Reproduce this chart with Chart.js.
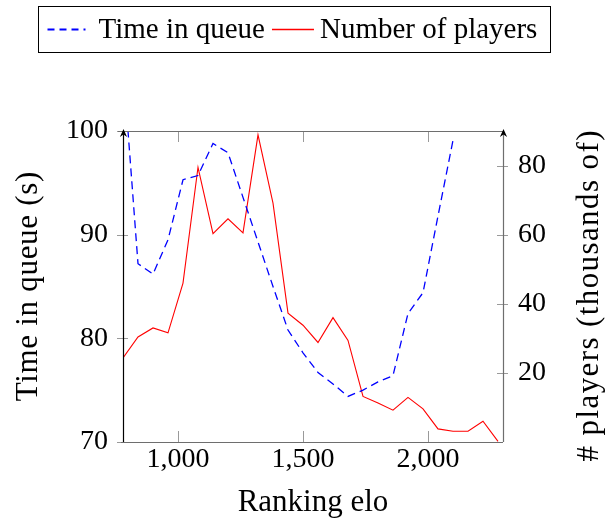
<!DOCTYPE html>
<html>
<head>
<meta charset="utf-8">
<script src="https://cdn.jsdelivr.net/npm/chart.js@4.4.1/dist/chart.umd.min.js"></script>
<style>
  html, body { margin: 0; padding: 0; background: #fff; }
  #wrap { width: 605px; height: 523px; }
</style>
</head>
<body>
<div id="wrap"><canvas id="chart" width="605" height="523"></canvas></div>
<script>
// Ranking elo bins (x)
const elo = [780, 840, 900, 960, 1020, 1080, 1140, 1200, 1260, 1320, 1380, 1440, 1500,
             1560, 1620, 1680, 1740, 1800, 1860, 1920, 1980, 2040, 2100, 2160, 2220, 2280];
// Time in queue (s), left axis
const queueTime = [106.4, 87.2, 86.2, 89.5, 95.3, 95.7, 98.8, 97.9, 93.6, 89.3, 85.0, 80.8, 78.6,
                   76.7, 75.6, 74.4, 75.0, 75.8, 76.4, 82.4, 84.4, 91.8, 99.1];
// Number of players (thousands), right axis
const players = [24.3, 30.4, 33.0, 31.6, 46.0, 79.5, 60.3, 64.6, 60.5, 88.9, 69.1, 37.3, 33.8,
                 28.8, 36.0, 29.4, 13.2, 11.3, 9.2, 12.9, 9.6, 3.8, 3.1, 3.1, 6.0, 0.2];

const xTicks = [1000, 1500, 2000];
const xTickLabels = ['1,000', '1,500', '2,000'];
const timeTicks = [70, 80, 90, 100];
const playerTicks = [20, 40, 60, 80];

const serif = 'Liberation Serif';
const axisGray = '#6e6e6e';
const tickGray = '#9a9a9a';

function arrowUp(ctx, x, y) {
  ctx.beginPath();
  ctx.moveTo(x, y - 2);
  ctx.lineTo(x - 3.6, y + 6);
  ctx.lineTo(x, y + 3.5);
  ctx.lineTo(x + 3.6, y + 6);
  ctx.closePath();
  ctx.fillStyle = '#000';
  ctx.fill();
}

// vertical title reading bottom to top, baseline at x
function sideTitle(ctx, text, x, y, spacing) {
  ctx.save();
  ctx.fillStyle = '#000';
  ctx.font = '31px "' + serif + '"';
  if ('letterSpacing' in ctx) ctx.letterSpacing = spacing + 'px';
  ctx.textAlign = 'center';
  ctx.textBaseline = 'alphabetic';
  ctx.translate(x, y);
  ctx.rotate(-Math.PI / 2);
  ctx.fillText(text, spacing / 2, 0);
  ctx.restore();
}

const decorations = {
  id: 'decorations',
  afterDraw(chart) {
    const ctx = chart.ctx;
    const { left, right, top, bottom } = chart.chartArea;
    const xs = chart.scales.x, ys = chart.scales.y, ys1 = chart.scales.y1;
    ctx.save();

    // ticks
    ctx.lineWidth = 1;
    ctx.strokeStyle = tickGray;
    ctx.beginPath();
    xTicks.forEach(v => {
      const px = Math.round(xs.getPixelForValue(v)) + 0.5;
      ctx.moveTo(px, bottom); ctx.lineTo(px, bottom - 11);
      ctx.moveTo(px, top); ctx.lineTo(px, top + 11);
    });
    timeTicks.forEach(v => {
      const py = Math.round(ys.getPixelForValue(v)) + 0.5;
      ctx.moveTo(left - 6, py); ctx.lineTo(left + 5, py);
    });
    playerTicks.forEach(v => {
      const py = Math.round(ys1.getPixelForValue(v)) + 0.5;
      ctx.moveTo(right - 6, py); ctx.lineTo(right + 5, py);
    });
    ctx.stroke();

    // frame lines
    ctx.strokeStyle = axisGray;
    ctx.lineWidth = 1.2;
    ctx.beginPath();
    ctx.moveTo(left - 5, top + 0.5); ctx.lineTo(right, top + 0.5);
    ctx.moveTo(left - 2, bottom + 0.5); ctx.lineTo(right, bottom + 0.5);
    ctx.moveTo(right + 0.5, bottom); ctx.lineTo(right + 0.5, top + 2);
    ctx.stroke();
    ctx.strokeStyle = '#000';
    ctx.beginPath();
    ctx.moveTo(left + 0.5, bottom); ctx.lineTo(left + 0.5, top + 2);
    ctx.stroke();
    arrowUp(ctx, left + 0.5, top);
    arrowUp(ctx, right + 0.5, top);

    // axis titles
    sideTitle(ctx, 'Time in queue (s)', 37, (top + bottom) / 2, 0.7);
    sideTitle(ctx, '# players (thousands of)', 598, 296, 1.4);

    // legend
    ctx.fillStyle = '#000';
    ctx.font = '29px "' + serif + '"';
    const ds = chart.data.datasets;
    const w1 = ctx.measureText(ds[0].label).width;
    const w2 = ctx.measureText(ds[1].label).width;
    const boxW = 9 + 38 + 13 + w1 + 7 + 42 + 6 + w2 + 13;
    const bx = Math.round(294 - boxW / 2) + 0.5;
    ctx.strokeStyle = '#000';
    ctx.lineWidth = 1;
    ctx.strokeRect(bx, 6.5, Math.round(boxW), 46);
    let cx = bx + 9;
    ctx.lineWidth = 2;
    ctx.strokeStyle = '#0000ff';
    ctx.setLineDash([7, 5]);
    ctx.beginPath(); ctx.moveTo(cx, 29.5); ctx.lineTo(cx + 38, 29.5); ctx.stroke();
    ctx.setLineDash([]);
    cx += 38 + 13;
    ctx.textAlign = 'left';
    ctx.textBaseline = 'alphabetic';
    ctx.fillText(ds[0].label, cx, 38);
    cx += w1 + 7;
    ctx.lineWidth = 1.4;
    ctx.strokeStyle = '#ff0000';
    ctx.beginPath(); ctx.moveTo(cx, 29.5); ctx.lineTo(cx + 42, 29.5); ctx.stroke();
    cx += 42 + 6;
    ctx.fillText(ds[1].label, cx, 38);

    ctx.restore();
  }
};

new Chart(document.getElementById('chart'), {
  type: 'line',
  data: {
    datasets: [
      {
        label: 'Time in queue',
        data: queueTime.map((v, i) => ({ x: elo[i], y: v })),
        yAxisID: 'y',
        borderColor: '#0000ff',
        borderWidth: 1.3,
        borderDash: [8, 5],
        pointRadius: 0,
        tension: 0,
        fill: false
      },
      {
        label: 'Number of players',
        data: players.map((v, i) => ({ x: elo[i], y: v })),
        yAxisID: 'y1',
        borderColor: '#ff0000',
        borderWidth: 1.1,
        pointRadius: 0,
        tension: 0,
        fill: false
      }
    ]
  },
  options: {
    responsive: false,
    animation: false,
    devicePixelRatio: 1,
    layout: { padding: { top: 131, left: 0, right: 0, bottom: 0 } },
    plugins: {
      legend: { display: false },
      tooltip: { enabled: false }
    },
    scales: {
      x: {
        type: 'linear',
        min: 780,
        max: 2300,
        afterBuildTicks: s => { s.ticks = xTicks.map(v => ({ value: v })); },
        afterFit: s => { s.height = 81; },
        grid: { display: false, drawTicks: false },
        border: { display: false },
        ticks: {
          color: '#000',
          font: { family: serif, size: 28 },
          padding: 1,
          maxRotation: 0,
          autoSkip: false,
          callback: (v, i) => xTickLabels[i]
        },
        title: {
          display: true,
          text: 'Ranking elo',
          color: '#000',
          font: { family: serif, size: 31 },
          padding: { top: 0, bottom: 2 }
        }
      },
      y: {
        position: 'left',
        min: 70,
        max: 100,
        afterBuildTicks: s => { s.ticks = timeTicks.map(v => ({ value: v })); },
        afterFit: s => { s.width = 123; },
        grid: { display: false, drawTicks: false },
        border: { display: false },
        ticks: {
          color: '#000',
          font: { family: serif, size: 28 },
          padding: 15,
          callback: v => String(v)
        }
      },
      y1: {
        position: 'right',
        min: 0,
        max: 90,
        afterBuildTicks: s => { s.ticks = playerTicks.map(v => ({ value: v })); },
        afterFit: s => { s.width = 102; },
        grid: { display: false, drawTicks: false },
        border: { display: false },
        ticks: {
          color: '#000',
          font: { family: serif, size: 28 },
          padding: 15,
          callback: v => String(v)
        }
      }
    }
  },
  plugins: [decorations]
});
</script>
</body>
</html>
